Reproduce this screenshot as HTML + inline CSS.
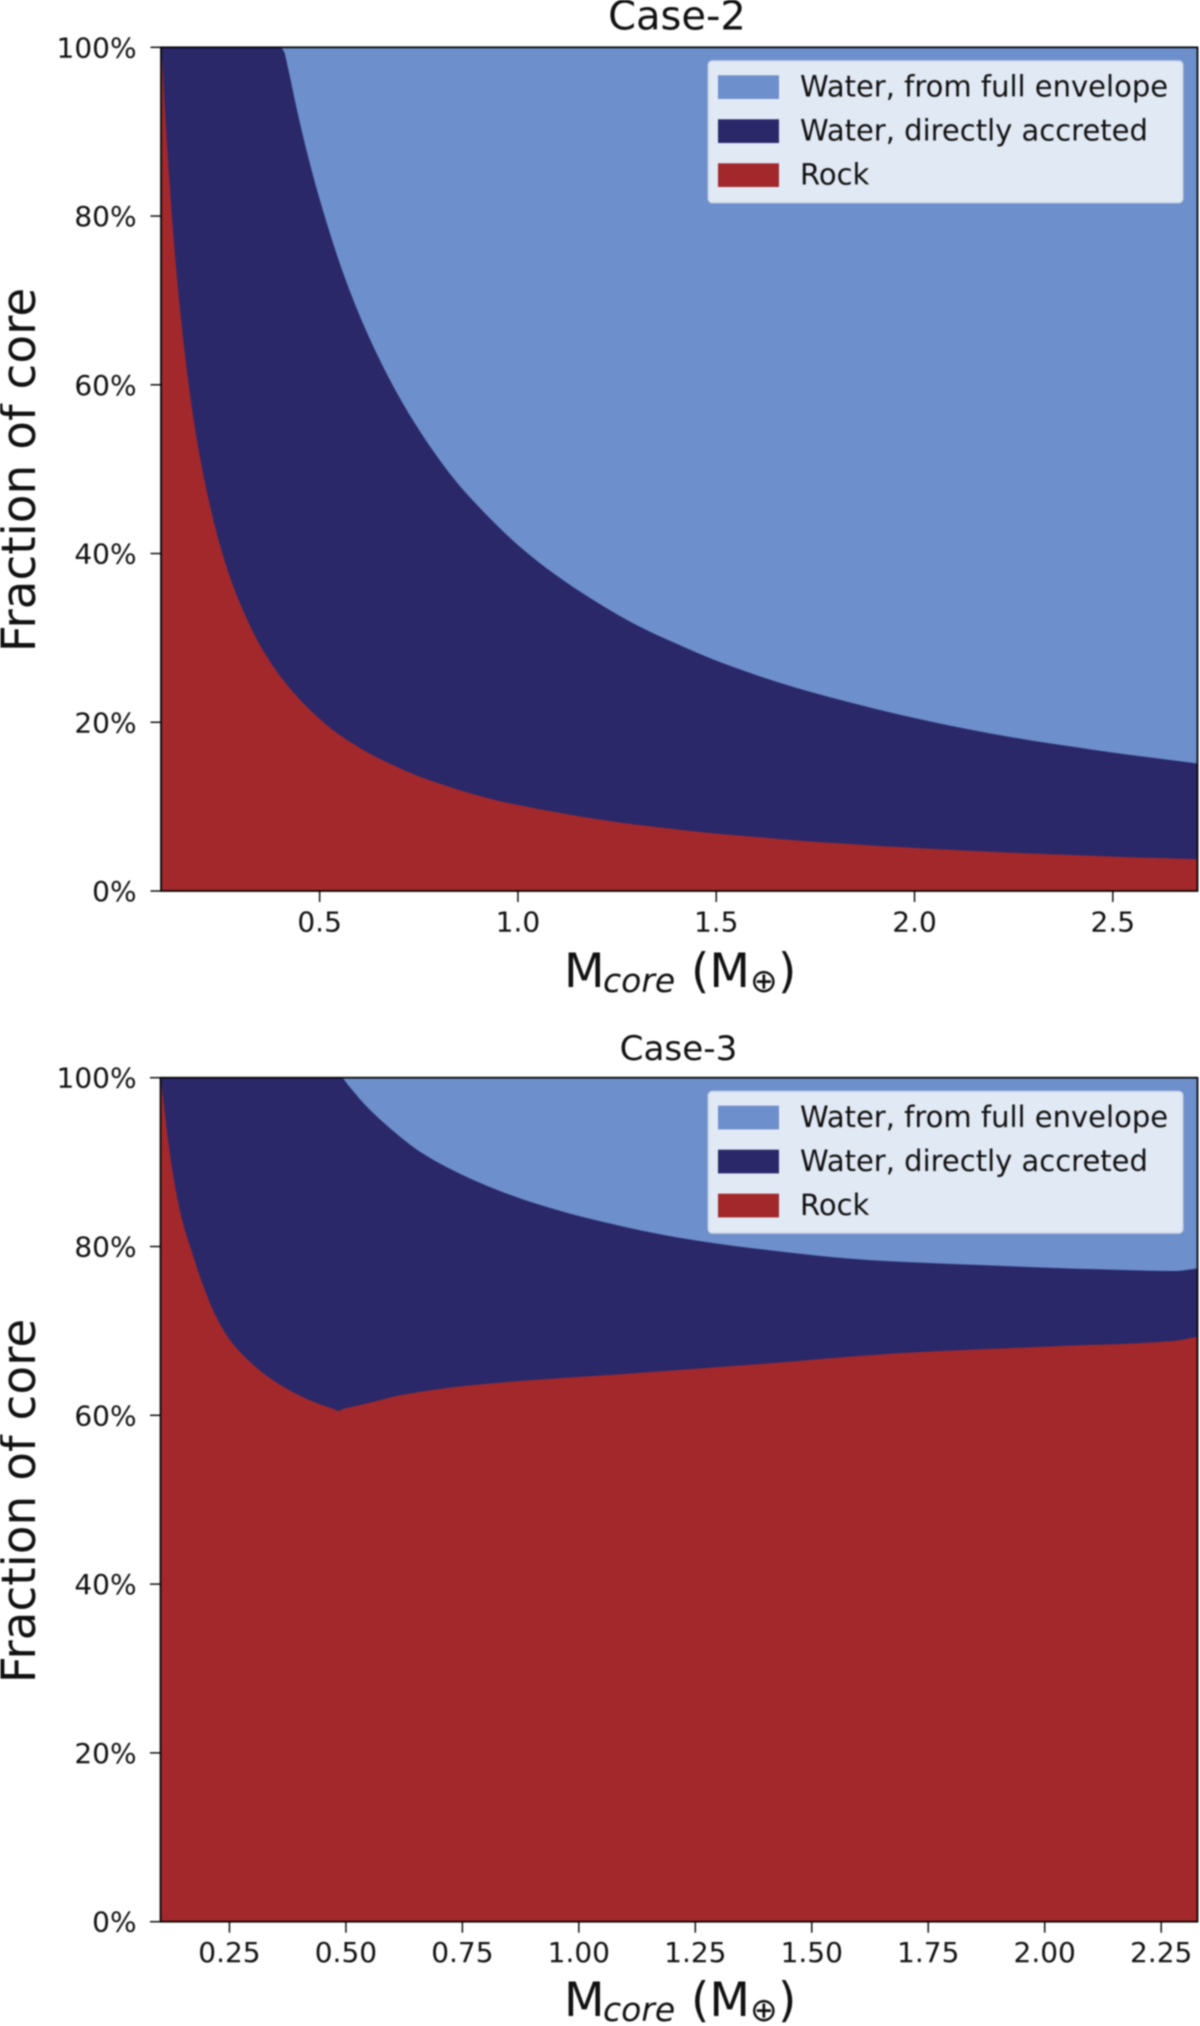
<!DOCTYPE html>
<html lang="en">
<head>
<meta charset="utf-8">
<title>Core composition: Case-2 and Case-3</title>
<style>
html,body{margin:0;padding:0;background:#fff;}
body{width:1200px;height:2026px;overflow:hidden;}
#figure{display:block;filter:blur(0.7px);}
text{font-family:"DejaVu Sans","Liberation Sans",sans-serif;fill:#111;}
.tick-label{font-size:28px;}
.legend-label{font-size:29px;}
.axis-title{font-size:47px;}
.axis-sub{font-size:33px;}
</style>
</head>
<body>
<svg id="figure" xmlns="http://www.w3.org/2000/svg" width="1200" height="2026" viewBox="0 0 1200 2026">
  <defs>
    <clipPath id="clip-case-2"><rect x="160.5" y="47.3" width="1037" height="843.7"/></clipPath>
    <clipPath id="clip-case-3"><rect x="160.5" y="1077.7" width="1037" height="844"/></clipPath>
  </defs>

  <g id="panel-case-2">
    <g id="marks-case-2" clip-path="url(#clip-case-2)"></g>
    <g id="axes-case-2"></g>
    <text x="677" y="29.5" text-anchor="middle" font-size="40">Case-2</text>
    <text class="axis-title" transform="translate(35 470) rotate(-90)" text-anchor="middle">Fraction of core</text>
    <g>
      <text class="axis-title" x="564" y="987">M</text>
      <text class="axis-sub" x="603" y="992" font-style="italic">core</text>
      <text class="axis-title" x="691" y="987">(M</text>
      <text class="axis-sub" x="750" y="992">⊕</text>
      <text class="axis-title" x="778" y="987">)</text>
    </g>
    <g>
      <rect x="708.3" y="61" width="474.5" height="141.7" rx="4" fill="#e1e9f5" stroke="#cdd6e6" stroke-width="1.4"/>
      <rect x="718" y="75.3" width="61" height="23.7" fill="#6d8fcb"/>
      <text class="legend-label" x="800" y="96.5">Water, from full envelope</text>
      <rect x="718" y="119.3" width="61" height="23.7" fill="#2a2869"/>
      <text class="legend-label" x="800" y="140.5">Water, directly accreted</text>
      <rect x="718" y="163.3" width="61" height="23.7" fill="#a3282b"/>
      <text class="legend-label" x="800" y="184.5">Rock</text>
    </g>
  </g>

  <g id="panel-case-3">
    <g id="marks-case-3" clip-path="url(#clip-case-3)"></g>
    <g id="axes-case-3"></g>
    <text x="678.5" y="1060" text-anchor="middle" font-size="34.2">Case-3</text>
    <text class="axis-title" transform="translate(35 1501) rotate(-90)" text-anchor="middle">Fraction of core</text>
    <g>
      <text class="axis-title" x="564" y="2016">M</text>
      <text class="axis-sub" x="603" y="2021" font-style="italic">core</text>
      <text class="axis-title" x="691" y="2016">(M</text>
      <text class="axis-sub" x="750" y="2021">⊕</text>
      <text class="axis-title" x="778" y="2016">)</text>
    </g>
    <g>
      <rect x="708.3" y="1091.4" width="474.5" height="141.7" rx="4" fill="#e1e9f5" stroke="#cdd6e6" stroke-width="1.4"/>
      <rect x="718" y="1105.7" width="61" height="23.7" fill="#6d8fcb"/>
      <text class="legend-label" x="800" y="1126.9">Water, from full envelope</text>
      <rect x="718" y="1149.7" width="61" height="23.7" fill="#2a2869"/>
      <text class="legend-label" x="800" y="1170.9">Water, directly accreted</text>
      <rect x="718" y="1193.7" width="61" height="23.7" fill="#a3282b"/>
      <text class="legend-label" x="800" y="1214.9">Rock</text>
    </g>
  </g>
</svg>

<script>
var yTicks = [0, 20, 40, 60, 80, 100];
var yTickLabels = ["0%", "20%", "40%", "60%", "80%", "100%"];

var case2XTicks = [0.5, 1.0, 1.5, 2.0, 2.5];
var case2XTickLabels = ["0.5", "1.0", "1.5", "2.0", "2.5"];
var case3XTicks = [0.25, 0.5, 0.75, 1.0, 1.25, 1.5, 1.75, 2.0, 2.25];
var case3XTickLabels = ["0.25", "0.50", "0.75", "1.00", "1.25", "1.50", "1.75", "2.00", "2.25"];

var case2RockMass = [0.1, 0.105, 0.11, 0.12, 0.13, 0.14, 0.15, 0.16, 0.18, 0.2, 0.22, 0.24, 0.26, 0.28, 0.3, 0.35, 0.4, 0.45, 0.5, 0.55, 0.6, 0.65, 0.7, 0.75, 0.8, 0.85, 0.9, 0.95, 1, 1.1, 1.2, 1.3, 1.4, 1.5, 1.6, 1.7, 1.8, 1.9, 2, 2.1, 2.2, 2.3, 2.4, 2.5, 2.6, 2.715];
var case2RockTop = [100, 97, 92.5, 85, 78.5, 72.8, 68, 63.7, 56.6, 51, 46.4, 42.5, 39.2, 36.4, 34, 29.1, 25.5, 22.7, 20.4, 18.5, 17, 15.7, 14.6, 13.6, 12.75, 12, 11.3, 10.7, 10.2, 9.3, 8.5, 7.85, 7.3, 6.8, 6.4, 6, 5.67, 5.37, 5.1, 4.86, 4.64, 4.43, 4.25, 4.08, 3.92, 3.76];
var case2AccretedMass = [0.1, 0.4, 0.41, 0.42, 0.44, 0.46, 0.48, 0.5, 0.55, 0.6, 0.65, 0.7, 0.75, 0.8, 0.85, 0.9, 0.95, 1, 1.1, 1.2, 1.3, 1.4, 1.5, 1.6, 1.7, 1.8, 1.9, 2, 2.1, 2.2, 2.3, 2.4, 2.5, 2.6, 2.715];
var case2AccretedTop = [100, 100, 99.5, 97.6, 93.2, 89.1, 85.4, 82, 74.5, 68.3, 63.1, 58.6, 54.7, 51.25, 48.2, 45.6, 43.2, 41, 37.3, 34.2, 31.5, 29.3, 27.3, 25.6, 24.1, 22.8, 21.6, 20.5, 19.5, 18.6, 17.8, 17.1, 16.4, 15.8, 15.1];

var case3RockMass = [0.102, 0.106, 0.119, 0.135, 0.151, 0.168, 0.192, 0.217, 0.25, 0.291, 0.332, 0.3815, 0.439, 0.476, 0.484, 0.492, 0.5375, 0.62, 0.742, 0.907, 1.045, 1.373, 1.7, 2.03, 2.277, 2.328];
var case3RockTop = [100, 98.3, 92.3, 86.6, 82.6, 79.6, 75.6, 72.2, 69, 66.5, 64.6, 62.9, 61.4, 60.7, 60.5, 60.7, 61.3, 62.4, 63.4, 64.2, 64.7, 66, 67.4, 68.2, 68.8, 69.3];
var case3AccretedMass = [0.102, 0.4906, 0.505, 0.5375, 0.5785, 0.66, 0.742, 0.825, 0.907, 1.045, 1.209, 1.373, 1.62, 1.866, 2.113, 2.277, 2.328];
var case3AccretedTop = [100, 100, 99.1, 97, 94.8, 91.2, 88.7, 86.7, 85.1, 83, 81.1, 79.8, 78.4, 77.8, 77.3, 77.1, 77.4];

var SVG_NS = "http://www.w3.org/2000/svg";

function linearScale(domainMin, domainMax, rangeMin, rangeMax) {
  return function (v) {
    return rangeMin + (v - domainMin) / (domainMax - domainMin) * (rangeMax - rangeMin);
  };
}

function monotoneTangents(px, py) {
  var n = px.length;
  var slopes = [];
  for (var i = 0; i < n - 1; i++) {
    slopes.push((py[i + 1] - py[i]) / (px[i + 1] - px[i]));
  }
  var tangents = [slopes[0]];
  for (var k = 1; k < n - 1; k++) {
    if (slopes[k - 1] * slopes[k] <= 0) {
      tangents.push(0);
    } else {
      var h0 = px[k] - px[k - 1];
      var h1 = px[k + 1] - px[k];
      var w0 = 2 * h1 + h0;
      var w1 = h1 + 2 * h0;
      tangents.push((w0 + w1) / (w0 / slopes[k - 1] + w1 / slopes[k]));
    }
  }
  tangents.push(slopes[n - 2]);
  return tangents;
}

function areaPath(masses, tops, xAxis, yAxis) {
  var px = masses.map(xAxis);
  var py = tops.map(yAxis);
  var base = yAxis(0).toFixed(2);
  var tangents = monotoneTangents(px, py);
  var d = "M" + px[0].toFixed(2) + " " + base + "L" + px[0].toFixed(2) + " " + py[0].toFixed(2);
  for (var i = 0; i < px.length - 1; i++) {
    var h = (px[i + 1] - px[i]) / 3;
    d += "C" + (px[i] + h).toFixed(2) + " " + (py[i] + tangents[i] * h).toFixed(2) +
         " " + (px[i + 1] - h).toFixed(2) + " " + (py[i + 1] - tangents[i + 1] * h).toFixed(2) +
         " " + px[i + 1].toFixed(2) + " " + py[i + 1].toFixed(2);
  }
  d += "L" + px[px.length - 1].toFixed(2) + " " + base + "Z";
  return d;
}

function drawPanel(prefix, xAxis, yAxis, xDomain, rockMass, rockTop, accMass, accTop, xTicks, xLabels, labelBaseline) {
  var marks = document.getElementById("marks-" + prefix);
  var axes = document.getElementById("axes-" + prefix);

  var envelope = document.createElementNS(SVG_NS, "path");
  
  
  envelope.setAttribute("d", areaPath(xDomain, [100, 100], xAxis, yAxis));
  envelope.setAttribute("fill", "#6d8fcb");
  marks.appendChild(envelope);

  var accreted = document.createElementNS(SVG_NS, "path");
  
  
  accreted.setAttribute("d", areaPath(accMass, accTop, xAxis, yAxis));
  accreted.setAttribute("fill", "#2a2869");
  marks.appendChild(accreted);

  var rock = document.createElementNS(SVG_NS, "path");
  
  
  rock.setAttribute("d", areaPath(rockMass, rockTop, xAxis, yAxis));
  rock.setAttribute("fill", "#a3282b");
  marks.appendChild(rock);

  var left = xAxis(xDomain[0]);
  var right = xAxis(xDomain[1]);
  var top = yAxis(100);
  var bottom = yAxis(0);

  var frame = document.createElementNS(SVG_NS, "rect");
  
  
  frame.setAttribute("x", left);
  frame.setAttribute("y", top);
  frame.setAttribute("width", right - left);
  frame.setAttribute("height", bottom - top);
  frame.setAttribute("fill", "none");
  frame.setAttribute("stroke", "#000");
  frame.setAttribute("stroke-width", "1.7");
  axes.appendChild(frame);

  yTicks.forEach(function (value, i) {
    var y = yAxis(value);
    var tick = document.createElementNS(SVG_NS, "line");
    
    
    tick.setAttribute("x1", left - 10.5);
    tick.setAttribute("x2", left);
    tick.setAttribute("y1", y);
    tick.setAttribute("y2", y);
    tick.setAttribute("stroke", "#000");
    tick.setAttribute("stroke-width", "1.4");
    axes.appendChild(tick);

    var label = document.createElementNS(SVG_NS, "text");
    
    
    label.setAttribute("class", "tick-label");
    label.setAttribute("x", 136.6);
    label.setAttribute("y", y + 10);
    label.setAttribute("text-anchor", "end");
    label.textContent = yTickLabels[i];
    axes.appendChild(label);
  });

  xTicks.forEach(function (value, i) {
    var x = xAxis(value);
    var tick = document.createElementNS(SVG_NS, "line");
    
    
    tick.setAttribute("x1", x);
    tick.setAttribute("x2", x);
    tick.setAttribute("y1", bottom);
    tick.setAttribute("y2", bottom + 11);
    tick.setAttribute("stroke", "#000");
    tick.setAttribute("stroke-width", "1.4");
    axes.appendChild(tick);

    var label = document.createElementNS(SVG_NS, "text");
    
    
    label.setAttribute("class", "tick-label");
    label.setAttribute("x", x);
    label.setAttribute("y", labelBaseline);
    label.setAttribute("text-anchor", "middle");
    label.textContent = xLabels[i];
    axes.appendChild(label);
  });
}

drawPanel(
  "case-2",
  linearScale(0.1, 2.7135, 161, 1197.5),
  linearScale(0, 100, 891, 47.3),
  [0.1, 2.7135],
  case2RockMass, case2RockTop, case2AccretedMass, case2AccretedTop,
  case2XTicks, case2XTickLabels, 931.7
);

drawPanel(
  "case-3",
  linearScale(0.102, 2.328, 160.5, 1197.5),
  linearScale(0, 100, 1921.7, 1077.7),
  [0.102, 2.328],
  case3RockMass, case3RockTop, case3AccretedMass, case3AccretedTop,
  case3XTicks, case3XTickLabels, 1962
);
</script>
</body>
</html>
